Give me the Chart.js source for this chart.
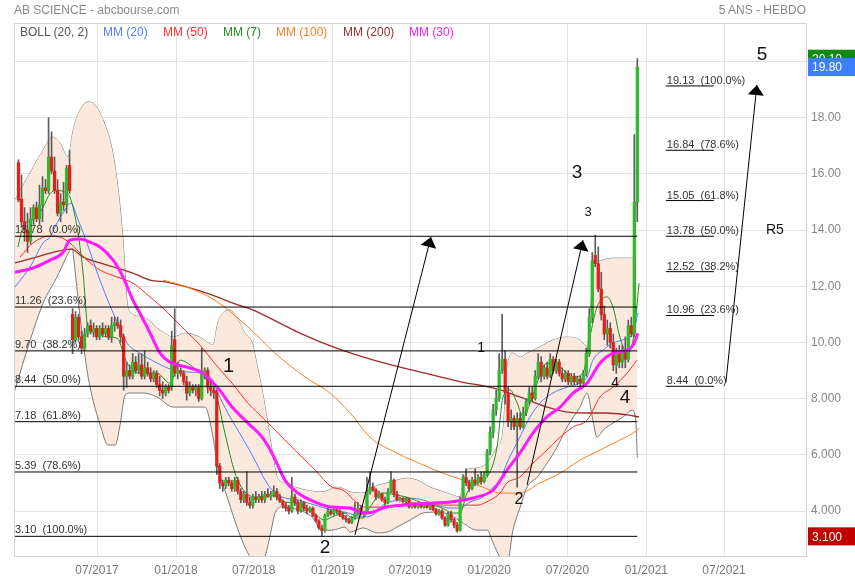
<!DOCTYPE html>
<html lang="fr">
<head>
<meta charset="UTF-8">
<title>AB SCIENCE - 5 ANS - HEBDO</title>
<script src="https://cdn.jsdelivr.net/npm/chart.js"></script>
<style>
  body { margin: 0; background: #fff; font-family: "Liberation Sans", Arial, sans-serif; }
  .wrap { position: relative; width: 855px; height: 580px; }
  .head { position: absolute; top: 3px; font-size: 12px; color: #8a8a8a; }
  .legend span { position: absolute; top: 25px; font-size: 12px; line-height: 14px; }
</style>
</head>
<body>
<div class="wrap">
  <canvas id="chart" width="855" height="580"></canvas>
  <div class="head" style="left:14px">AB SCIENCE - abcbourse.com</div>
  <div class="head" style="right:49px">5 ANS - HEBDO</div>
  <div class="legend">
    <span style="left:20px;color:#555">BOLL (20, 2)</span>
    <span style="left:103px;color:#4d7fff">MM (20)</span>
    <span style="left:163px;color:#ff3030">MM (50)</span>
    <span style="left:223px;color:#1f8f1f">MM (7)</span>
    <span style="left:276px;color:#ff7f1e">MM (100)</span>
    <span style="left:343px;color:#9b2d2d">MM (200)</span>
    <span style="left:409px;color:#ff1aff">MM (30)</span>
  </div>
</div>
<script>
// weekly candles, week 0 = 30/12/2016
const candleOpen = [
  16.4,15.1,14.3,14.0,13.6,14.4,14.8,14.4,14.9,15.5,
  15.4,16.6,16.1,15.4,14.6,15.0,14.9,16.3,11.0,10.1,
  10.9,10.2,9.8,10.3,10.6,10.4,10.5,10.2,10.5,10.3,
  10.5,10.2,10.6,10.7,10.6,10.2,8.8,9.0,8.8,9.3,
  9.0,9.2,8.8,9.1,8.9,8.7,8.9,8.5,8.3,8.2,
  8.4,8.4,10.1,8.9,9.0,8.9,8.6,8.2,8.4,8.3,
  8.4,8.0,8.9,9.0,8.4,8.3,8.2,5.6,5.0,4.9,
  5.1,5.0,4.8,5.1,4.7,4.4,4.6,4.3,4.2,4.5,
  4.4,4.5,4.4,4.6,4.5,4.6,4.7,4.5,4.35,4.2,
  4.1,4.0,4.5,4.3,4.0,4.3,4.1,4.0,4.1,3.85,
  3.65,3.4,3.3,3.85,4.0,3.9,4.05,4.0,3.85,3.75,
  3.7,3.6,3.75,3.9,4.1,3.9,3.95,4.65,4.85,4.75,
  4.5,4.6,4.4,4.3,4.7,5.1,4.6,4.4,4.45,4.35,
  4.42,4.15,4.25,4.15,4.25,4.15,4.22,4.12,4.2,4.05,
  3.9,4.0,3.75,3.5,3.9,3.7,3.5,3.3,4.4,5.2,
  5.0,4.8,5.1,5.0,5.2,5.05,5.3,6.1,6.8,7.6,
  8.0,9.0,9.4,8.2,7.2,7.3,7.0,7.3,7.0,7.5,
  7.9,8.2,8.0,8.8,9.3,8.8,9.1,8.8,9.4,9.0,
  9.3,8.9,8.7,8.9,8.6,8.8,8.6,8.7,8.55,8.9,
  9.6,10.9,13.1,12.8,11.9,11.0,10.3,10.5,10.0,9.2,
  9.6,9.3,9.7,9.4,10.6,10.3,15.0
];
const candleHigh = [
  16.5,15.96,14.8,14.6,14.8,14.9,15.0,15.6,15.9,15.8,
  18.0,17.5,16.6,15.8,15.3,15.7,16.3,16.85,11.2,11.1,
  11.0,10.4,10.5,10.7,10.8,10.7,10.6,10.6,10.7,10.6,
  10.6,10.9,10.9,10.9,10.8,10.3,9.3,9.2,9.6,9.5,
  9.6,9.6,9.7,9.3,9.1,9.0,9.0,8.8,8.6,8.5,
  8.5,10.4,11.2,9.3,9.1,9.0,8.8,8.6,8.5,8.5,
  8.5,9.8,9.1,9.1,8.6,8.4,8.3,5.7,5.1,5.2,
  5.2,5.1,5.2,5.2,4.8,4.7,5.4,4.5,4.6,4.7,
  4.6,4.7,4.7,4.8,4.7,4.9,4.8,4.6,4.4,4.3,
  4.2,5.2,4.6,4.4,4.4,4.35,4.2,4.15,4.15,3.9,
  3.7,3.5,3.9,4.1,4.05,4.1,4.1,4.05,3.95,3.85,
  3.75,3.8,4.3,4.3,4.2,4.0,5.2,5.4,5.0,4.8,
  4.7,4.65,4.5,4.8,5.4,5.15,4.7,4.5,4.5,4.5,
  4.45,4.3,4.3,4.3,4.3,4.3,4.3,4.25,4.25,4.1,
  4.05,4.05,3.8,3.95,4.0,3.75,3.6,4.5,5.3,5.5,
  5.1,5.2,5.5,5.3,5.4,5.4,6.2,7.0,7.8,8.3,
  9.6,11.0,9.7,8.4,7.6,7.4,7.5,7.5,7.7,8.0,
  8.4,8.4,9.0,9.6,9.5,9.2,9.3,9.6,9.5,9.4,
  9.4,9.1,9.0,9.0,8.9,8.9,8.8,8.8,9.0,9.8,
  11.2,13.2,13.82,13.4,12.5,11.3,10.8,10.7,10.3,9.8,
  9.9,9.9,10.2,10.8,10.9,17.4,20.1
];
const candleLow = [
  15.0,14.1,13.6,13.2,13.5,14.2,14.3,14.2,14.3,15.3,
  15.3,16.0,15.3,14.5,14.3,14.7,14.6,15.3,9.6,10.0,
  10.1,9.6,9.7,10.2,10.3,10.2,10.1,10.1,10.2,10.2,
  10.1,10.0,10.4,10.5,10.0,8.3,8.4,8.7,8.7,8.9,
  8.9,8.7,8.7,8.8,8.6,8.6,8.4,8.1,8.0,8.1,
  8.2,8.3,8.8,8.7,8.8,8.5,7.95,8.1,8.2,8.1,
  7.9,7.95,8.7,8.2,8.1,8.0,5.3,4.8,4.7,4.8,
  4.9,4.7,4.7,4.6,4.3,4.3,4.2,4.1,4.1,4.3,
  4.3,4.3,4.3,4.5,4.4,4.5,4.4,4.3,4.1,4.0,
  3.9,3.95,4.2,3.9,3.95,4.0,3.9,3.95,3.8,3.6,
  3.35,3.1,3.25,3.8,3.85,3.85,3.9,3.8,3.7,3.6,
  3.55,3.55,3.7,3.85,3.85,3.8,3.9,4.6,4.7,4.4,
  4.45,4.35,4.2,4.25,4.65,4.5,4.35,4.35,4.3,4.3,
  4.1,4.1,4.1,4.1,4.1,4.1,4.1,4.05,4.0,3.85,
  3.85,3.7,3.45,3.45,3.6,3.4,3.25,3.28,4.35,4.9,
  4.7,4.75,4.9,4.95,4.95,5.0,5.25,6.0,6.6,7.4,
  7.9,8.9,7.8,7.0,6.9,6.9,4.85,6.9,6.95,7.4,
  7.8,7.9,7.95,8.7,8.6,8.7,8.7,8.75,8.9,8.9,
  8.8,8.6,8.6,8.5,8.5,8.5,8.5,8.45,8.5,8.8,
  9.5,10.7,12.7,11.8,10.8,10.1,9.9,9.8,9.0,8.9,
  9.1,9.1,9.1,9.3,10.2,10.2,14.3
];
const candleClose = [
  15.07,14.3,14.0,13.6,14.4,14.8,14.4,14.9,15.5,15.4,
  16.6,16.1,15.4,14.6,15.0,14.9,16.2,15.4,10.1,10.9,
  10.2,9.8,10.3,10.6,10.4,10.5,10.2,10.5,10.3,10.5,
  10.2,10.6,10.7,10.6,10.2,8.8,9.0,8.8,9.3,9.0,
  9.2,8.8,9.1,8.9,8.7,8.9,8.5,8.3,8.2,8.4,
  8.3,9.9,8.9,9.0,8.9,8.6,8.2,8.4,8.3,8.4,
  8.0,8.9,9.0,8.4,8.3,8.2,5.6,5.0,4.9,5.1,
  5.0,4.8,5.1,4.7,4.4,4.6,4.3,4.2,4.5,4.4,
  4.5,4.4,4.6,4.5,4.6,4.7,4.5,4.35,4.2,4.1,
  4.0,4.5,4.3,4.0,4.3,4.1,4.0,4.1,3.85,3.65,
  3.4,3.3,3.85,4.0,3.9,4.05,4.0,3.85,3.75,3.7,
  3.6,3.75,3.9,4.1,3.9,3.95,4.65,4.85,4.75,4.5,
  4.6,4.4,4.3,4.7,5.1,4.6,4.4,4.45,4.35,4.42,
  4.15,4.25,4.15,4.25,4.15,4.22,4.12,4.2,4.05,3.9,
  4.0,3.75,3.5,3.9,3.7,3.5,3.3,4.4,5.2,5.0,
  4.8,5.1,5.0,5.2,5.05,5.3,6.1,6.8,7.6,8.0,
  9.0,9.4,8.2,7.2,7.3,7.0,7.3,7.0,7.5,7.9,
  8.2,8.0,8.8,9.3,8.8,9.1,8.8,9.4,9.0,9.3,
  8.9,8.7,8.9,8.6,8.8,8.6,8.7,8.55,8.9,9.6,
  10.9,12.9,12.8,11.9,11.0,10.3,10.5,10.0,9.2,9.6,
  9.3,9.7,9.4,10.6,10.3,15.0,19.8
];

// indicators: [week, value]
const bollUpper = [[-1.2,15.07],[4.9,16.24],[8.2,16.85],[11.2,17.31],[13.8,17.1],[16.5,16.6],[18.2,17.56],[20.5,18.27],[23.2,18.56],[25.5,18.45],[28.8,17.74],[31.2,16.85],[33.2,15.42],[34.8,13.64],[36.1,11.51],[37.1,11.08],[41.5,10.9],[47.1,10.44],[51.5,10.19],[55.5,10.33],[60.4,10.19],[64.8,9.91],[66.4,10.73],[68.4,11.08],[70.4,11.15],[73.1,10.8],[75.4,10.33],[77.8,9.98],[79.4,9.2],[81.1,8.31],[82.8,7.24],[84.4,6.17],[86.1,5.21],[88.8,5.0],[92.1,4.85],[95.4,4.75],[101.1,4.68],[106.4,4.85],[110.4,4.68],[114.7,4.64],[118,4.85],[122.7,5.0],[126,5.1],[129.4,5.17],[132.7,5.1],[137,4.85],[142.7,4.64],[147,4.5],[148,5.0],[149.3,5.46],[152.7,5.53],[156,5.71],[159.3,6.28],[161.3,6.88],[162.6,9.02],[164.6,9.62],[167,9.48],[169.3,9.62],[173.6,9.84],[178,10.09],[182.6,10.19],[186.9,10.09],[189.3,9.84],[190.3,10.9],[191.3,12.47],[192.6,12.83],[194.6,12.93],[197.9,13.0],[204.6,13.0],[206,15.5]];
const bollLower = [[-1.2,8.3],[3.9,10.09],[8.2,11.4],[12.8,12.33],[17.2,13.29],[17.8,13.36],[18.8,12.58],[20.5,10.9],[22.8,9.02],[24.8,7.95],[27.2,7.06],[29.8,6.35],[32.2,6.35],[33.8,7.06],[35.5,8.13],[37.1,8.2],[41.5,8.2],[46.1,8.06],[51.5,7.7],[56.1,7.7],[60.4,7.7],[62.1,7.7],[64.5,6.78],[66.4,5.57],[69.8,4.39],[73.1,3.32],[76.4,2.5],[79.8,2.08],[82.1,2.4],[83.8,3.15],[85.4,3.93],[87.8,4.14],[93.1,4.04],[97.7,3.79],[101.1,3.32],[104.4,3.32],[108.7,3.43],[110.4,3.25],[114.7,3.4],[119.4,3.22],[122.7,3.25],[126,3.43],[130.4,3.68],[134.7,3.93],[139.3,3.96],[143.7,3.86],[148,3.57],[152.7,3.32],[156,3.32],[158,2.86],[160.3,2.36],[162.6,2.08],[164.6,3.32],[167,4.14],[169.3,4.85],[172.7,5.21],[176,5.71],[179.3,6.28],[182.6,6.99],[186.9,7.7],[189.3,8.2],[191,7.35],[192.6,6.63],[194.6,6.88],[197.9,7.13],[201.3,7.35],[204.3,7.59],[205.4,7.3],[206,5.9]];
const mm7 = [[-0.2,13.4],[1.5,14.1],[6.2,14.46],[8.2,14.82],[10.5,15.3],[12.8,15.42],[16.1,15.3],[17.1,15.18],[19.5,14.1],[21.5,12.47],[23.1,10.55],[26.1,10.33],[29.5,10.19],[32.8,10.15],[36.1,9.27],[40.4,8.91],[46.1,8.91],[50.4,8.55],[53.8,9.37],[58.1,9.12],[62.7,8.66],[65.4,8.31],[68.7,6.78],[72.1,5.35],[75.4,4.68],[79.7,4.5],[84.4,4.57],[88.7,4.32],[93,4.28],[97.7,3.96],[102,3.68],[104.4,3.79],[108.7,3.93],[110.4,3.79],[114.7,3.75],[117,4.14],[121.3,4.64],[126,4.57],[130.3,4.46],[134.7,4.28],[140.3,4.14],[144.6,3.93],[147,3.93],[149.3,4.64],[152.6,5.0],[156,5.21],[159.3,6.28],[161.3,8.06],[163.6,8.31],[166,7.84],[168,7.35],[170.3,7.84],[172.6,8.55],[175.9,9.27],[180.3,9.12],[184.6,8.77],[187.9,8.91],[190.2,10.19],[192.6,11.26],[195.9,11.62],[197.9,11.26],[200.2,10.19],[202.6,9.62],[204.6,10.09],[206.6,12.11]];
const mm20 = [[-1.2,11.97],[3.8,12.68],[8.2,13.54],[10.5,13.75],[12.8,14.25],[14.8,14.6],[17.5,14.96],[19.5,14.46],[22.8,13.54],[27.1,12.22],[31.5,11.05],[36.1,9.98],[40.4,9.62],[46.1,9.27],[51.4,9.02],[56.1,8.95],[60.4,8.91],[64.7,8.66],[66.4,8.2],[69.7,7.49],[74.4,6.63],[78.7,5.81],[82.1,5.1],[84.4,4.75],[87.7,4.5],[93,4.39],[98.7,4.21],[104.4,4.04],[108.7,3.96],[114.7,3.79],[118,3.86],[121.3,4.21],[126,4.39],[130.3,4.46],[134.7,4.39],[139.3,4.21],[143.6,4.11],[147,4.11],[150.3,4.32],[154.6,4.5],[158,4.85],[160.3,5.1],[162.6,5.71],[166.9,6.63],[170.3,7.35],[173.6,7.84],[177.9,8.2],[182.6,8.41],[186.9,8.56],[189.3,8.77],[191.2,9.37],[194.6,9.73],[197.9,9.98],[201.2,10.09],[204.6,10.33],[206.2,11.05]];
const mm30 = [[-1.2,12.5],[4.8,12.65],[10.5,12.93],[14.8,13.2],[17.1,13.64],[20.5,13.68],[23.8,13.57],[27.1,13.4],[31.5,12.93],[34.8,12.33],[38.1,11.5],[40.4,11.05],[43.8,10.33],[47.1,9.62],[50.4,9.3],[56.1,9.12],[61.4,8.91],[63.1,8.73],[66.4,8.38],[71.1,7.7],[76.4,7.13],[81.1,6.63],[84.4,6.06],[88.7,5.1],[93,4.64],[98.7,4.32],[104.4,4.14],[110.4,4.11],[114.7,3.93],[118,3.96],[121.3,4.11],[128,4.21],[137,4.28],[143.6,4.32],[148,4.39],[152.6,4.5],[158,4.75],[162.6,5.46],[166.9,6.06],[171.3,6.78],[175.9,7.35],[180.3,7.7],[184.6,8.2],[189.3,8.56],[193.6,9.27],[197.9,9.62],[202.6,9.73],[204.6,9.91],[206.2,10.33]];
const mm50 = [[0.5,13.04],[4.8,13.54],[10.5,13.79],[13.8,13.75],[17.1,13.54],[22.8,12.93],[27.1,12.58],[32.8,12.33],[38.1,12.11],[43.8,11.62],[48.8,11.15],[55.4,10.44],[59.8,9.98],[66.4,9.12],[71.1,8.55],[76.4,7.84],[82.1,7.24],[87.7,6.63],[93,6.06],[98.7,5.46],[104.4,4.85],[108,4.75],[112.7,4.28],[114.7,4.14],[120.3,4.14],[131.3,4.28],[142.6,4.21],[152.6,4.21],[157,4.39],[160.3,4.64],[162.6,5.0],[166.9,5.21],[171.3,5.71],[175.9,6.17],[180.3,6.63],[184.6,6.99],[189.3,7.24],[193.6,8.06],[197.9,8.41],[202.6,8.91],[205.9,9.37]];
const mm100 = [[48.1,12.22],[56.1,11.97],[65.4,11.5],[76.4,10.55],[85.4,9.62],[95.4,8.77],[103.7,8.2],[110.4,7.49],[117,6.63],[126,6.06],[134.7,5.64],[141.3,5.35],[148,5.1],[154.6,4.85],[160.3,4.64],[166.9,4.64],[173.6,5.0],[180.3,5.35],[186.9,5.81],[193.6,6.17],[200.2,6.53],[204.6,6.78],[206.6,6.95]];
const mm200 = [[-1.2,12.83],[4.8,13.0],[10.5,13.18],[14.8,13.29],[17.5,13.32],[21.5,13.04],[27.1,12.83],[32.8,12.65],[38.1,12.47],[43.8,12.22],[49.4,12.15],[56.1,11.97],[62.7,11.76],[71.4,11.4],[78.1,11.15],[87,10.69],[93.7,10.33],[104.7,9.84],[116,9.44],[127,9.12],[138,8.84],[149.3,8.55],[153.6,8.48],[160.3,8.31],[166.9,8.06],[175.9,7.7],[182.6,7.52],[189.3,7.49],[195.9,7.49],[202.6,7.42],[206.6,7.35]];

// Fibonacci retracement levels
const fibLeftLevels = [13.78, 11.26, 9.70, 8.44, 7.18, 5.39, 3.10];
const fibLeftPct = ['0.0%', '23.6%', '38.2%', '50.0%', '61.8%', '78.6%', '100.0%'];
const fibRightLevels = [19.13, 16.84, 15.05, 13.78, 12.52, 10.96, 8.44];
const fibRightPct = ['100.0%', '78.6%', '61.8%', '50.0%', '38.2%', '23.6%', '0.0%'];

// Elliott wave arrows [fromWeek, fromPrice, toWeek, toPrice] and counts
const arrows = [[112, 3.15, 137.3, 13.75], [169.3, 4.93, 187.9, 13.64], [235.5, 8.59, 245.8, 19.16]];
const waveText = ['1', '2', '1', '2', '3', '3', '4', '4', '5', 'R5'];
const waveWeek = [69.9, 102.0, 154.0, 166.6, 185.9, 189.6, 198.6, 201.9, 247.5, 251.8];
const wavePrice = [9.16, 2.68, 9.8, 4.39, 16.03, 14.64, 8.55, 8.02, 20.23, 14.0];
const waveFont = [20, 19, 14, 16, 19, 13, 14, 19, 19, 14];

const tickDates = ['2017-07-01', '2018-01-01', '2018-07-01', '2019-01-01', '2019-07-01',
  '2020-01-01', '2020-07-01', '2021-01-01', '2021-07-01'];
const yTicks = [4, 6, 8, 10, 12, 14, 16, 18, 20];

const firstWeek = Date.UTC(2016, 11, 30);
const weekIndex = iso => (Date.parse(iso) - firstWeek) / (7 * 864e5);
const tickPos = tickDates.map(weekIndex);
const tickLabels = tickDates.map(d => d.slice(5, 7) + '/' + d.slice(0, 4));
const fmt = v => v >= 10 ? v.toFixed(2) : v.toFixed(3);

const xMin = -1.5, xMax = 262.15;
const lastWeek = candleClose.length - 1;
const weeks = candleClose.map((_, i) => i);

function lineSet(label, pts, color, width, order) {
    return {
        type: 'line', label, order,
        data: pts.map(p => ({x: p[0], y: p[1]})),
        borderColor: color, borderWidth: width,
        pointRadius: 0, fill: false, cubicInterpolationMode: 'monotone'
    };
}
function segment(x1, x2, v, order) {
    return {
        type: 'line', order, data: [{x: x1, y: v}, {x: x2, y: v}],
        borderColor: '#000', borderWidth: 1, pointRadius: 0, fill: false
    };
}

const datasets = [
    lineSet('BOLL haut', bollUpper, '#7a7a7a', 1, 20),
    Object.assign(lineSet('BOLL bas', bollLower, '#7a7a7a', 1, 19), {fill: '-1', backgroundColor: '#fce9dd'}),
    lineSet('MM (200)', mm200, '#9b2d2d', 1.3, 15),
    lineSet('MM (100)', mm100, '#ff7f1e', 1, 14),
    lineSet('MM (50)', mm50, '#ff2a2a', 1, 13),
    lineSet('MM (20)', mm20, '#4d7fff', 1, 12),
    lineSet('MM (7)', mm7, '#1f8f1f', 1, 11),
    {
        label: 'mèches', order: 6, grouped: false, barThickness: 1,
        data: weeks.map(i => ({x: i, y: [candleLow[i], candleHigh[i]]})),
        backgroundColor: '#5c5c5c'
    },
    {
        label: 'corps', order: 5, grouped: false, barThickness: 2.6,
        data: weeks.map(i => ({x: i, y: [candleOpen[i], candleClose[i]]})),
        backgroundColor: weeks.map(i => candleClose[i] >= candleOpen[i] ? '#2dbb2d' : '#e3211c')
    },
    lineSet('MM (30)', mm30, '#ff1aff', 3, 4)
];
fibLeftLevels.forEach(v => datasets.push(segment(xMin, lastWeek, v, 2)));
fibRightLevels.forEach(v => datasets.push(segment(215.5, 231.5, v, 2)));
arrows.forEach(a => datasets.push({
    type: 'line', order: 1, data: [{x: a[0], y: a[1]}, {x: a[2], y: a[3]}],
    borderColor: '#000', borderWidth: 1, pointRadius: 0, fill: false
}));

const overlay = {
    id: 'overlay',
    afterDatasetsDraw(chart) {
        const {ctx, chartArea: a, scales: {x, y}} = chart;
        ctx.save();
        ctx.fillStyle = '#000';
        // arrow heads
        arrows.forEach(ar => {
            const x1 = x.getPixelForValue(ar[0]), y1 = y.getPixelForValue(ar[1]);
            const x2 = x.getPixelForValue(ar[2]), y2 = y.getPixelForValue(ar[3]);
            const ang = Math.atan2(y2 - y1, x2 - x1);
            const c = Math.cos(ang), s = Math.sin(ang);
            ctx.beginPath();
            ctx.moveTo(x2, y2);
            ctx.lineTo(x2 - 10 * c + 8 * s, y2 - 10 * s - 8 * c);
            ctx.lineTo(x2 - 10 * c - 8 * s, y2 - 10 * s + 8 * c);
            ctx.closePath();
            ctx.fill();
        });
        // fibonacci labels
        ctx.font = '11px "Liberation Sans", Arial, sans-serif';
        ctx.fillStyle = '#333';
        ctx.textAlign = 'left';
        ctx.textBaseline = 'alphabetic';
        fibLeftLevels.forEach((v, i) => {
            ctx.fillText(v.toFixed(2) + '  (' + fibLeftPct[i] + ')', a.left + 1, y.getPixelForValue(v) - 3);
        });
        fibRightLevels.forEach((v, i) => {
            ctx.fillText(v.toFixed(2) + '  (' + fibRightPct[i] + ')', x.getPixelForValue(215.5) + 1, y.getPixelForValue(v) - 2);
        });
        // wave counts
        ctx.fillStyle = '#111';
        ctx.textAlign = 'center';
        ctx.textBaseline = 'middle';
        waveText.forEach((t, i) => {
            ctx.font = waveFont[i] + 'px "Liberation Sans", Arial, sans-serif';
            ctx.fillText(t, x.getPixelForValue(waveWeek[i]), y.getPixelForValue(wavePrice[i]));
        });
        ctx.restore();
    },
    afterDraw(chart) {
        const {ctx, chartArea: a, scales: {y}} = chart;
        ctx.save();
        ctx.strokeStyle = '#d4d4d4';
        ctx.lineWidth = 1;
        ctx.strokeRect(a.left + 0.5, a.top + 0.5, a.right - a.left, a.bottom - a.top);
        // price tags: high, last close, low
        const tags = [
            [Math.max(...candleHigh), '#118a11'],
            [candleClose[lastWeek], '#3d7dff'],
            [Math.min(...candleLow), '#c30000']
        ];
        ctx.font = '12px "Liberation Sans", Arial, sans-serif';
        ctx.textAlign = 'left';
        ctx.textBaseline = 'middle';
        tags.forEach(t => {
            const py = y.getPixelForValue(t[0]);
            ctx.fillStyle = t[1];
            ctx.fillRect(a.right + 2, py - 9, 855 - a.right - 2, 18);
            ctx.fillStyle = '#fff';
            ctx.fillText(fmt(t[0]), a.right + 6, py + 1);
        });
        ctx.restore();
    }
};

Chart.defaults.font.family = '"Liberation Sans", Arial, sans-serif';

new Chart(document.getElementById('chart'), {
    type: 'bar',
    data: {datasets},
    options: {
        responsive: false,
        animation: false,
        devicePixelRatio: 1,
        layout: {padding: {left: 14, top: 23, right: 0, bottom: 0}},
        plugins: {legend: {display: false}, tooltip: {enabled: false}},
        scales: {
            x: {
                type: 'linear', min: xMin, max: xMax, offset: false,
                afterBuildTicks: s => { s.ticks = tickPos.map(v => ({value: v})); },
                afterFit: s => { s.height = 24; },
                ticks: {
                    callback: (v, i) => tickLabels[i],
                    color: '#777', font: {size: 12}, maxRotation: 0, autoSkip: false, padding: 7
                },
                grid: {color: '#e2e2e2', drawTicks: false, offset: false},
                border: {display: false}
            },
            y: {
                position: 'right', min: 2.4, max: 21.37,
                afterBuildTicks: s => { s.ticks = yTicks.map(v => ({value: v})); },
                afterFit: s => { s.width = 49; },
                ticks: {callback: v => fmt(v), color: '#888', font: {size: 12}, padding: 5},
                grid: {color: '#e2e2e2', drawTicks: false},
                border: {display: false}
            }
        }
    },
    plugins: [overlay]
});
</script>
</body>
</html>
